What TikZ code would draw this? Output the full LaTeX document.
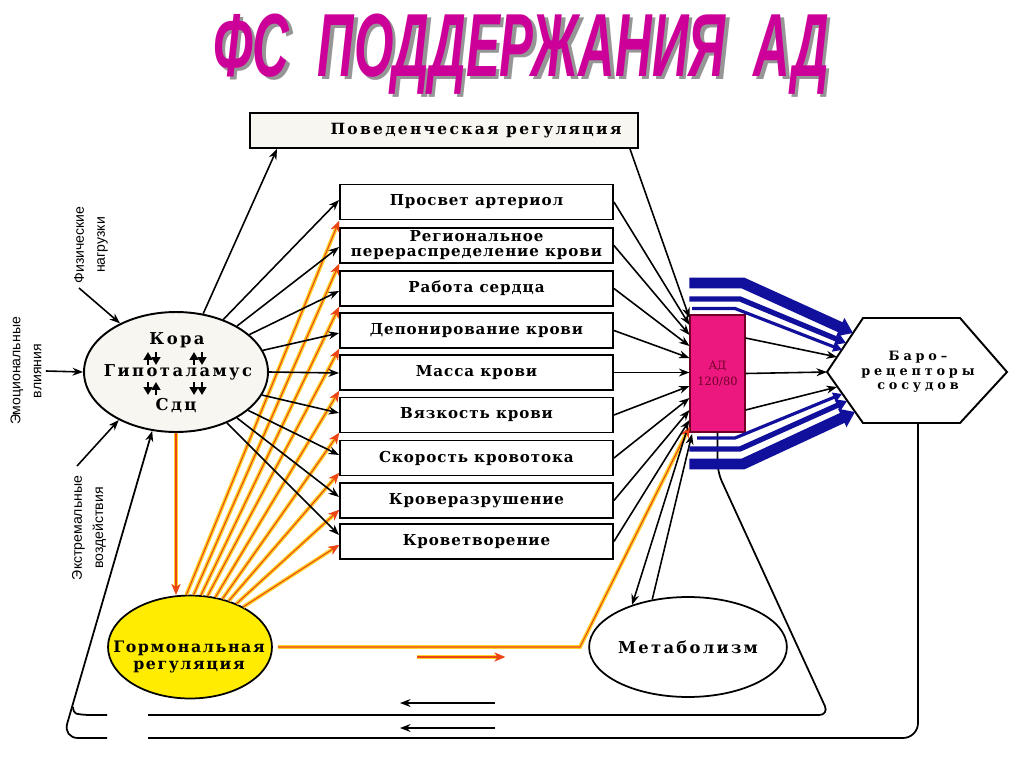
\documentclass[tikz,border=0pt]{standalone}
\usepackage{graphicx}
\usepackage{fontspec}
\setmainfont{DejaVu Serif}
\newfontfamily\lblfont{Liberation Sans}
\newfontfamily\titlefont{Liberation Sans}
\usetikzlibrary{arrows.meta,shapes.geometric,calc}
\definecolor{titlemag}{RGB}{204,0,153}
\definecolor{titleshadow}{RGB}{150,150,150}
\definecolor{adpink}{RGB}{236,24,128}
\definecolor{hormyellow}{RGB}{255,236,0}
\definecolor{bandblue}{RGB}{16,16,156}
\definecolor{hormred}{RGB}{235,70,20}
\definecolor{hormglow}{RGB}{255,210,40}
\definecolor{offwhite}{RGB}{248,246,240}
\definecolor{adtext}{RGB}{110,0,40}
\newcommand{\ls}[1]{\addfontfeature{LetterSpace=#1}}
\newcommand{\titletext}{\scalebox{0.566}[1]{ФС\ \ ПОДДЕРЖАНИЯ\ \ АД}}
\begin{document}
\begin{tikzpicture}[x=0.02cm,y=-0.02cm,
  fbox/.style={draw,line width=1.1pt,fill=white,minimum width=5.46cm,minimum height=0.7cm,inner sep=0pt,
    font=\bfseries\fontsize{8.6}{8.6}\selectfont\ls{6},align=center},
  conn/.style={line width=0.9pt,-{Stealth[length=6pt,width=4.5pt]}},
  frame/.style={line width=1pt},
  hormline/.style={draw=hormred,line width=0.6pt,preaction={draw=hormglow,line width=2.2pt},
    -{Stealth[length=6pt,width=5pt,hormred]}},
  band/.style={draw=bandblue,line join=miter},
  smallarr/.style={line width=1.7pt,-{Triangle[length=4.5pt,width=5pt]}},
  sidelbl/.style={font=\lblfont\fontsize{8}{12}\selectfont,rotate=90,align=center,inner sep=0pt}
]
\useasboundingbox (0,0) rectangle (1024,767);
\fill[white] (0,0) rectangle (1024,767);

% title (with its shadow in the same node)
\node[font=\titlefont\bfseries\itshape\fontsize{51}{51}\selectfont,inner sep=0pt,anchor=base] (title) at (521,77)
  {\rlap{\kern2pt\raisebox{-1.7pt}{\color{titleshadow}\titletext}}\color{titlemag}\titletext};

% main nodes
\node[fbox,fill=offwhite,minimum width=7.76cm,font=\bfseries\fontsize{8.8}{8.8}\selectfont\ls{15}] (beh) at (444,130.5) {\hspace*{1.28cm}Поведенческая регуляция};
\node[fbox] (b1) at (476.5,202) {Просвет артериол};
\node[fbox] (b2) at (476.5,245.5) {Региональное\\перераспределение крови};
\node[fbox] (b3) at (476.5,288.5) {Работа сердца};
\node[fbox] (b4) at (476.5,330.5) {Депонирование крови};
\node[fbox] (b5) at (476.5,372.5) {Масса крови};
\node[fbox] (b6) at (476.5,415) {Вязкость крови};
\node[fbox] (b7) at (476.5,458) {Скорость кровотока};
\node[fbox] (b8) at (476.5,500.5) {Кроверазрушение};
\node[fbox] (b9) at (476.5,541.5) {Кроветворение};

\node[ellipse,draw,line width=1.1pt,fill=offwhite,minimum width=3.68cm,minimum height=2.4cm,inner sep=0pt] (cns) at (176,372) {};
\node[font=\bfseries\fontsize{9.3}{9.3}\selectfont\ls{15}] (kora) at (177,340) {Кора};
\node[font=\bfseries\fontsize{9.3}{9.3}\selectfont\ls{15}] (gipo) at (178,372) {Гипоталамус};
\node[font=\bfseries\fontsize{9.3}{9.3}\selectfont\ls{15}] (sdc) at (176,406) {Сдц};
\draw[smallarr] (148,365) -- (148,352);
\draw[smallarr] (156,352) -- (156,365);
\draw[smallarr] (194,365) -- (194,352);
\draw[smallarr] (202,352) -- (202,365);
\draw[smallarr] (148,382) -- (148,395);
\draw[smallarr] (156,395) -- (156,382);
\draw[smallarr] (194,382) -- (194,395);
\draw[smallarr] (202,382) -- (202,395);

\node[ellipse,draw,line width=1pt,fill=hormyellow,minimum width=3.28cm,minimum height=2.06cm,inner sep=0pt] (horm) at (190,647) {};
\node[font=\bfseries\fontsize{9}{9.6}\selectfont\ls{10},align=center] (hormtxt) at (189,657) {Гормональная\\регуляция};

\node[ellipse,draw,line width=1pt,fill=white,minimum width=3.24cm,minimum height=2cm,inner sep=0pt,
  font=\bfseries\fontsize{9.3}{9.3}\selectfont\ls{14}] (met) at (688,647) {Метаболизм};

\node[draw=adtext,line width=0.6pt,fill=adpink,minimum width=1.1cm,minimum height=2.34cm,inner sep=0pt,
  text=adtext,font=\fontsize{6.5}{9}\selectfont,align=center] (ad) at (717.5,373.5) {АД\\120/80};

\draw[line width=1.1pt,fill=white] (827,372) -- (863,318) -- (960,318) -- (1007,372) -- (960,423) -- (863,423) -- cycle;
\node[font=\bfseries\fontsize{7.3}{8.2}\selectfont\ls{30},align=center] (baro) at (918,372) {Баро–\\рецепторы\\сосудов};
\coordinate (hexbot) at (918,423);

% side inputs
\node[sidelbl] (fiz) at (91,245) {Физические\\нагрузки};
\node[sidelbl] (emo) at (26,371) {Эмоциональные\\влияния};
\node[sidelbl] (ext) at (89,528) {Экстремальные\\воздействия};
\draw[conn] (79,288) -- (cns.139);
\draw[conn] (emo.south) ++(4,0) -- (cns.west);
\draw[conn] (77,466) -- (cns.-140);

% outer frames
\draw[frame,rounded corners=0.3cm,{Stealth[length=6pt,width=4.5pt]}-] (cns.-112) -- (63,738) -- (107,738);
\draw[frame,rounded corners=0.3cm] (148,738) -- (918,738) -- (hexbot);
\draw[frame,rounded corners=0.2cm] (ad.south) -- (717.5,472) -- (829,715) -- (148,715);
\draw[frame] (73,707) .. controls (74,714) .. (88,715) -- (107,715);

% behavioural
\draw[conn] (cns.65) -- (beh.south -| 277,0);
\draw[conn] (beh.south -| 630,0) -- (ad.west |- 0,318);

% hormonal fan
\draw[hormline] (cns.south) -- (cns.south |- horm.north);
\draw[hormline] (horm.94.5) -- (b1.west |- 0,221);
\draw[hormline] (horm.86.6) -- (b2.west |- 0,264);
\draw[hormline] (horm.78.8) -- (b3.west |- 0,307);
\draw[hormline] (horm.71.2) -- (b4.west |- 0,349);
\draw[hormline] (horm.63.8) -- (b5.west |- 0,391);
\draw[hormline] (horm.56.7) -- (b6.west |- 0,433);
\draw[hormline] (horm.50) -- (b7.west |- 0,473);
\draw[hormline] (horm.43.4) -- (b8.west |- 0,510);
\draw[hormline] (horm.37.2) -- (b9.west |- 0,545);
\draw[hormline] (horm.east) ++(5,0) -- (580,647) -- (ad.west |- 0,427);

% cns to boxes
\draw[conn] (cns.48) -- (b1.west |- 0,200);
\draw[conn] (cns.37) -- (b2.west |- 0,247);
\draw[conn] (cns.27) -- (b3.west |- 0,291);
\draw[conn] (cns.14) -- (b4.west |- 0,333);
\draw[conn] (cns.0) -- (b5.west |- 0,373);
\draw[conn] (cns.-15) -- (b6.west |- 0,413);
\draw[conn] (cns.-28) -- (b7.west |- 0,455);
\draw[conn] (cns.-37) -- (b8.west |- 0,497);
\draw[conn] (cns.-45) -- (b9.west |- 0,535);

% boxes to AD
\draw[conn] (b1.east) -- (ad.west |- 0,325);
\draw[conn] (b2.east) -- (ad.west |- 0,335);
\draw[conn] (b3.east) -- (ad.west |- 0,346);
\draw[conn] (b4.east) -- (ad.west |- 0,358);
\draw[conn] (b5.east) -- (ad.west |- 0,372.5);
\draw[conn] (b6.east) -- (ad.west |- 0,386);
\draw[conn] (b7.east) -- (ad.west |- 0,398);
\draw[conn] (b8.east) -- (ad.west |- 0,410);
\draw[conn] (b9.east) -- (ad.west |- 0,420);

% AD and metabolism
\draw[conn] (686,433) -- (met.143);
\draw[conn] (met.127) -- (692,434);

% AD to baroreceptors
\draw[band,line width=6.2pt,-{Triangle[length=8pt,width=11pt]}] (ad.west |- 0,283) -- (743,283) -- (853,333);
\draw[band,line width=3pt,-{Triangle[length=6pt,width=7pt]}] (ad.west |- 0,299) -- (740,299) -- (846,343);
\draw[band,line width=1.8pt,-{Triangle[length=5pt,width=5.5pt]}] (692,308.5) -- (735,308.5) -- (842,350);
\draw[band,line width=1.8pt,-{Triangle[length=5pt,width=5.5pt]}] (697,438) -- (735,438) -- (842,394);
\draw[band,line width=3pt,-{Triangle[length=6pt,width=7pt]}] (ad.west |- 0,449) -- (740,449) -- (847,401);
\draw[band,line width=6.2pt,-{Triangle[length=8pt,width=11pt]}] (ad.west |- 0,464) -- (743,464) -- (855,412);
\draw[conn] (ad.east |- 0,338) -- (837,357);
\draw[conn] (ad.east) -- (827,372);
\draw[conn] (ad.east |- 0,410) -- (837,387);

% free direction arrows
\draw[hormline] (417,657) -- (505,657);
\draw[conn] (495,703) -- (400,703);
\draw[conn] (495,728) -- (400,728);
\end{tikzpicture}
\end{document}
